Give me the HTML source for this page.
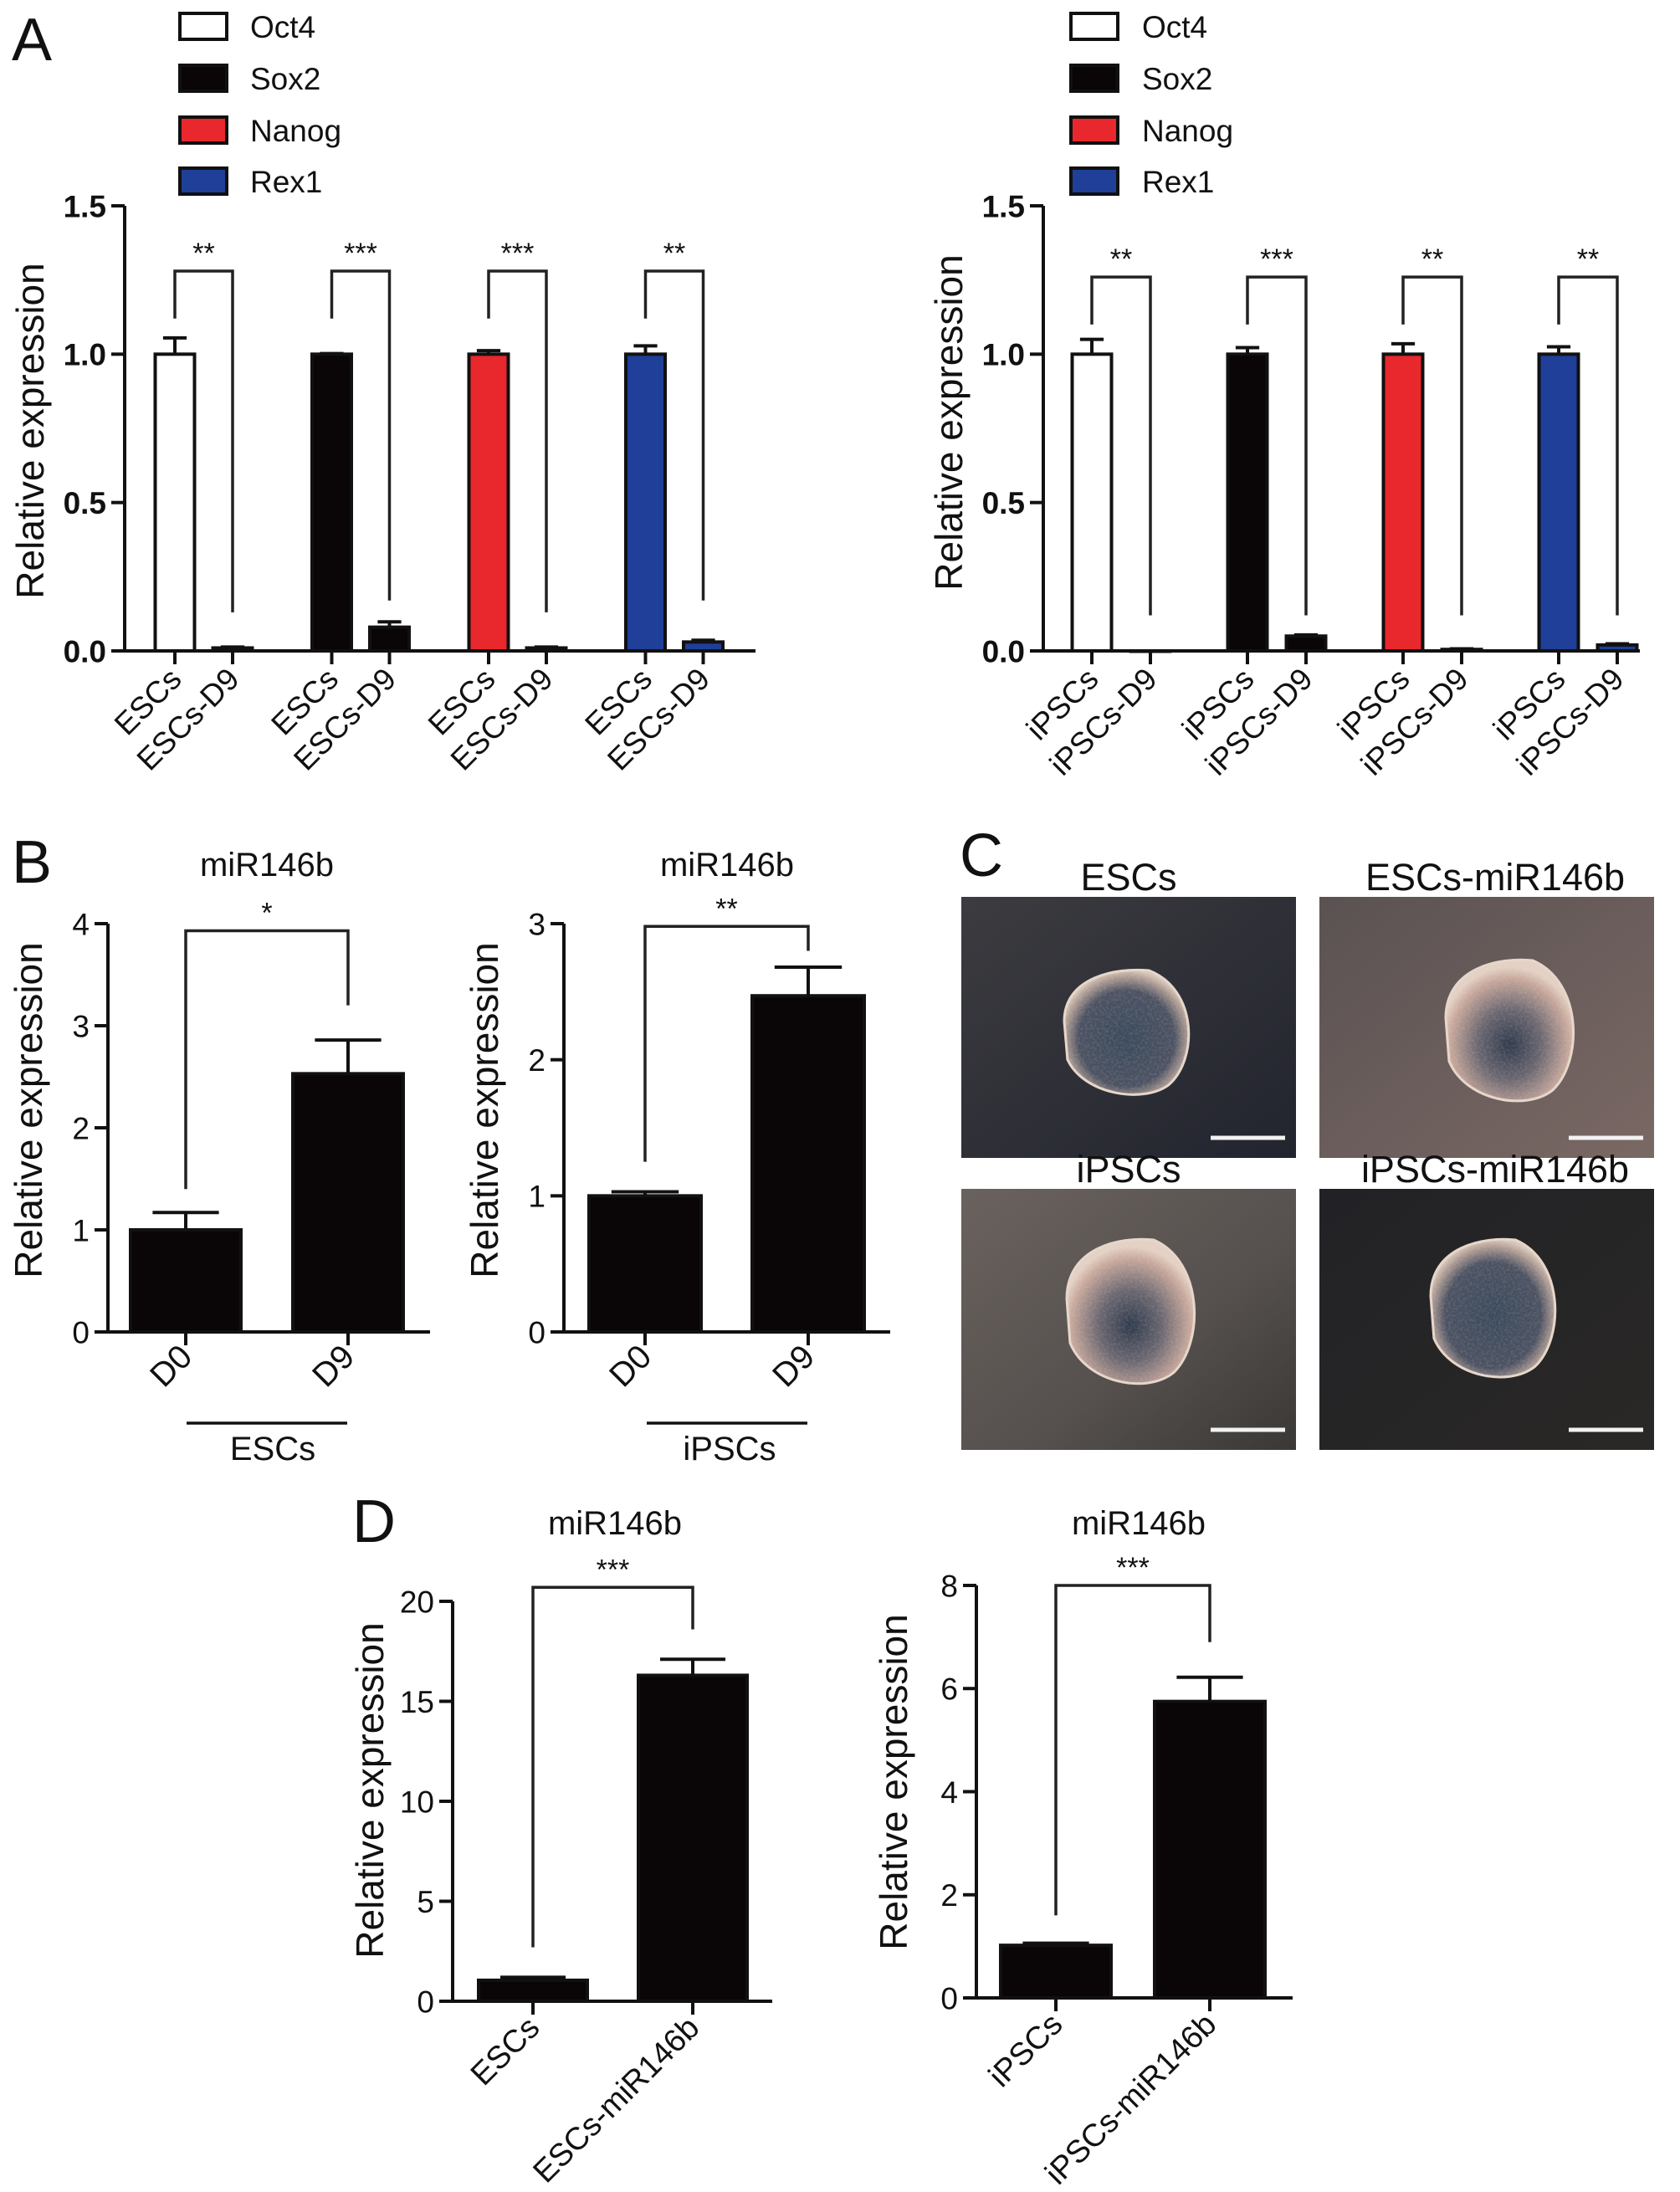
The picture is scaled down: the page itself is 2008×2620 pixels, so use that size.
<!DOCTYPE html>
<html><head><meta charset="utf-8">
<style>
html,body{margin:0;padding:0;background:#fff;}
svg{display:block;font-family:"Liberation Sans",Arial,sans-serif;}
</style></head>
<body>
<svg id="fig" width="2008" height="2620" viewBox="0 0 2008 2620" xmlns="http://www.w3.org/2000/svg">
<defs>
  <filter id="grain" x="0" y="0" width="100%" height="100%">
    <feTurbulence type="fractalNoise" baseFrequency="0.35" numOctaves="2" seed="3"/>
    <feColorMatrix type="matrix" values="0 0 0 0 0.9  0 0 0 0 0.85  0 0 0 0 0.8  0 0 0 0.9 -0.35"/>
    <feComposite in2="SourceGraphic" operator="in"/>
  </filter>
  <radialGradient id="colA" cx="0.5" cy="0.55" r="0.55">
    <stop offset="0" stop-color="#3a4a5c"/><stop offset="0.7" stop-color="#4c5262"/><stop offset="0.92" stop-color="#b8a49a"/><stop offset="1" stop-color="#d8c8bc"/>
  </radialGradient>
  <radialGradient id="colB" cx="0.5" cy="0.6" r="0.55">
    <stop offset="0" stop-color="#2e3a4c"/><stop offset="0.45" stop-color="#6a6670"/><stop offset="0.85" stop-color="#c8a89c"/><stop offset="1" stop-color="#e4d0c4"/>
  </radialGradient>
  <linearGradient id="bgTL" x1="0" y1="0" x2="1" y2="1"><stop offset="0" stop-color="#3c3c40"/><stop offset="1" stop-color="#22242e"/></linearGradient>
  <linearGradient id="bgTR" x1="0" y1="0" x2="1" y2="1"><stop offset="0" stop-color="#5a5252"/><stop offset="1" stop-color="#7a6864"/></linearGradient>
  <linearGradient id="bgBL" x1="0" y1="0" x2="1" y2="1"><stop offset="0" stop-color="#6a625e"/><stop offset="0.6" stop-color="#55504e"/><stop offset="1" stop-color="#3a3836"/></linearGradient>
  <linearGradient id="bgBR" x1="0" y1="0" x2="1" y2="1"><stop offset="0" stop-color="#222226"/><stop offset="1" stop-color="#2a2826"/></linearGradient>
</defs>
<g id="root"></g>
</svg>
<script>
// ---------- DATA ----------
const geneNames = ["Oct4","Sox2","Nanog","Rex1"];
const geneColors = ["#ffffff","#0a0506","#e8282c","#1f3f99"];
const aLeftCats = ["ESCs","ESCs-D9"];
const aLeftMeans = [1.0,0.01, 1.0,0.08, 1.0,0.01, 1.0,0.03];
const aLeftErrs  = [0.055,0.003, 0.002,0.018, 0.012,0.003, 0.028,0.006];
const aLeftStars = ["**","***","***","**"];
const aRightCats = ["iPSCs","iPSCs-D9"];
const aRightMeans = [1.0,0.0, 1.0,0.05, 1.0,0.005, 1.0,0.02];
const aRightErrs  = [0.05,0.0, 0.022,0.004, 0.035,0.002, 0.025,0.004];
const aRightStars = ["**","***","**","**"];
const aTicks = ["0.0","0.5","1.0","1.5"];

const bLeftCats = ["D0","D9"];
const bLeftMeans = [1.0,2.53];
const bLeftErrs = [0.17,0.33];
const bLeftTicks = ["0","1","2","3","4"];
const bRightCats = ["D0","D9"];
const bRightMeans = [1.0,2.47];
const bRightErrs = [0.03,0.21];
const bRightTicks = ["0","1","2","3"];

const dLeftCats = ["ESCs","ESCs-miR146b"];
const dLeftMeans = [1.05,16.3];
const dLeftErrs = [0.15,0.8];
const dLeftTicks = ["0","5","10","15","20"];
const dRightCats = ["iPSCs","iPSCs-miR146b"];
const dRightMeans = [1.02,5.75];
const dRightErrs = [0.04,0.47];
const dRightTicks = ["0","2","4","6","8"];

// ---------- HELPERS ----------
const NS="http://www.w3.org/2000/svg";
const root=document.getElementById('root');
function el(tag,attrs,parent,text){
  const e=document.createElementNS(NS,tag);
  for(const k in attrs) e.setAttribute(k,attrs[k]);
  if(text!==undefined) e.textContent=text;
  (parent||root).appendChild(e);
  return e;
}
function txt(x,y,s,size,opts,parent){
  opts=opts||{};
  const t=el('text',{x:x,y:y,'font-size':size,fill:'#111','text-anchor':opts.anchor||'start'},parent,s);
  if(opts.bold) t.setAttribute('font-weight','bold');
  if(opts.rot!==undefined) t.setAttribute('transform','rotate('+opts.rot+' '+x+' '+y+')');
  return t;
}

function barChart(cfg,cats,means,errs,ticks,colors,name){
  const g=el('g',{});
  
  
  const y=v=>cfg.axisY0-(v/cfg.vmax)*(cfg.axisY0-cfg.axisYTop);
  const nPer=cats.length;
  const xc=i=>cfg.firstX+Math.floor(i/nPer)*cfg.step+(i%nPer)*cfg.offset;
  for(let i=0;i<means.length;i++){
    const cx=xc(i), top=y(means[i]);
    const fill=colors[Math.floor(i/nPer)];
    if(errs[i]>0){
      const ey=y(means[i]+errs[i]);
      const eb=el('path',{d:'M'+cx+' '+top+'V'+ey+'M'+(cx-cfg.barW*0.3)+' '+ey+'H'+(cx+cfg.barW*0.3),stroke:'#111','stroke-width':4,fill:'none'},g);
      
      
    }
    const r=el('rect',{x:cx-cfg.barW/2,y:top,width:cfg.barW,height:Math.max(cfg.axisY0-top,0.5),fill:fill,stroke:'#111','stroke-width':4},g);
    
    
    el('line',{x1:cx,y1:cfg.axisY0,x2:cx,y2:cfg.axisY0+16,stroke:'#111','stroke-width':4},g);
    const lab=txt(cx+10,cfg.axisY0+cfg.labDy,cats[i%nPer],cfg.labFont,{anchor:'end',rot:-45},g);
    
    
  }
  const ax=el('path',{d:'M'+cfg.axisX+' '+(cfg.axisYTop)+'V'+cfg.axisY0+'H'+cfg.xEnd,stroke:'#111','stroke-width':4,fill:'none'},g);
  
  
  for(let k=0;k<ticks.length;k++){
    const v=parseFloat(ticks[k]);
    const ty=y(v);
    el('line',{x1:cfg.axisX-16,y1:ty,x2:cfg.axisX,y2:ty,stroke:'#111','stroke-width':4},g);
    const tl=txt(cfg.axisX-22,ty+cfg.tickFont*0.36,ticks[k],cfg.tickFont,{anchor:'end',bold:cfg.tickBold},g);
    
    
  }
  const yt=txt(cfg.yTitleX,cfg.yTitleY,'Relative expression',cfg.yTitleFont,{anchor:'middle',rot:-90},g);
  
  
  for(let gi=0;gi<cfg.stars.length;gi++){
    const x1=xc(gi*nPer), x2=xc(gi*nPer+1);
    const by=y(cfg.brTop), l1=y(cfg.legL[gi]), l2=y(cfg.legR[gi]);
    const br=el('path',{d:'M'+x1+' '+l1+'V'+by+'H'+x2+'V'+l2,stroke:'#222','stroke-width':3.5,fill:'none'},g);
    
    
    const st=txt((x1+x2)/2,by-cfg.starDy,cfg.stars[gi],cfg.starFont,{anchor:'middle'},g);
    
    
  }
  return g;
}

// ---------- PANEL LETTERS ----------
[['A',14,72],['B',14,1055],['C',1147,1047],['D',421,1843]].forEach(p=>{
  const t=txt(p[1],p[2],p[0],72,{});
  
  
});

// ---------- PANEL A LEGENDS ----------
function legend(x0,tx,name){
  const g=el('g',{});
  
  
  const ys=[16,78,140,201];
  for(let i=0;i<geneNames.length;i++){
    const r=el('rect',{x:x0,y:ys[i],width:56,height:31,fill:geneColors[i],stroke:'#111','stroke-width':4},g);
    
    
    const t=txt(tx,ys[i]+29,geneNames[i],37,{},g);
    
    
  }
}
legend(215,299,'legend-left');
legend(1280,1365,'legend-right');

// ---------- PANEL A CHARTS ----------
barChart({axisX:149,axisY0:778,axisYTop:246,xEnd:903,vmax:1.5,firstX:209,step:187.5,offset:69,barW:47,
  tickFont:37,tickBold:true,labFont:37,labDy:36,yTitleX:52,yTitleY:515,yTitleFont:46,
  stars:aLeftStars,brTop:1.28,legL:[1.12,1.12,1.12,1.12],legR:[0.13,0.17,0.13,0.17],starDy:10,starFont:34},
  aLeftCats,aLeftMeans,aLeftErrs,aTicks,geneColors,'chart-a-escs');
barChart({axisX:1247,axisY0:778,axisYTop:246,xEnd:1960,vmax:1.5,firstX:1305,step:186,offset:70,barW:47,
  tickFont:37,tickBold:true,labFont:37,labDy:36,yTitleX:1150,yTitleY:505,yTitleFont:46,
  stars:aRightStars,brTop:1.26,legL:[1.1,1.1,1.1,1.1],legR:[0.12,0.12,0.12,0.12],starDy:10,starFont:34},
  aRightCats,aRightMeans,aRightErrs,aTicks,geneColors,'chart-a-ipscs');

// ---------- PANEL B ----------
const blk=["#0a0506"];
function title(x,y,s,name){const t=txt(x,y,s,40,{anchor:'middle'});}
title(319,1047,'miR146b','chart-title-b-left');
title(869,1047,'miR146b','chart-title-b-right');
barChart({axisX:129,axisY0:1592,axisYTop:1104,xEnd:514,vmax:4,firstX:222,step:0,offset:194,barW:132,
  tickFont:37,tickBold:false,labFont:40,labDy:32,yTitleX:50,yTitleY:1327,yTitleFont:46,
  stars:["*"],brTop:3.93,legL:[1.4],legR:[3.2],starDy:10,starFont:34},
  bLeftCats,bLeftMeans,bLeftErrs,bLeftTicks,blk,'chart-b-escs');
barChart({axisX:674,axisY0:1592,axisYTop:1104,xEnd:1064,vmax:3,firstX:771,step:0,offset:195,barW:134,
  tickFont:37,tickBold:false,labFont:40,labDy:32,yTitleX:595,yTitleY:1327,yTitleFont:46,
  stars:["**"],brTop:2.98,legL:[1.25],legR:[2.8],starDy:10,starFont:34},
  bRightCats,bRightMeans,bRightErrs,bRightTicks,blk,'chart-b-ipscs');
[[223,415,326,'ESCs'],[773,965,872,'iPSCs']].forEach(gl=>{
  const l=el('line',{x1:gl[0],y1:1701,x2:gl[1],y2:1701,stroke:'#111','stroke-width':3.5});
  
  
  const t=txt(gl[2],1745,gl[3],40,{anchor:'middle'});
  
  
});

// ---------- PANEL C (micrographs) ----------
const imgs=[
  {x:1149,y:1072,bg:'url(#bgTL)',lab:'ESCs',grad:'url(#colA)',cx:1350,cy:1236,rx:78,ry:76},
  {x:1577,y:1072,bg:'url(#bgTR)',lab:'ESCs-miR146b',grad:'url(#colB)',cx:1808,cy:1234,rx:80,ry:86},
  {x:1149,y:1421,bg:'url(#bgBL)',lab:'iPSCs',grad:'url(#colB)',cx:1355,cy:1570,rx:80,ry:88},
  {x:1577,y:1421,bg:'url(#bgBR)',lab:'iPSCs-miR146b',grad:'url(#colA)',cx:1788,cy:1566,rx:78,ry:84}
];
imgs.forEach(m=>{
  const g=el('g',{});
  
  
  el('rect',{x:m.x,y:m.y,width:400,height:312,fill:m.bg},g);
  const d='M'+(m.cx-m.rx)+' '+(m.cy-m.ry*0.2)+
    ' C'+(m.cx-m.rx)+' '+(m.cy-m.ry*0.9)+' '+(m.cx-m.rx*0.2)+' '+(m.cy-m.ry*1.05)+' '+(m.cx+m.rx*0.3)+' '+(m.cy-m.ry)+
    ' C'+(m.cx+m.rx*1.05)+' '+(m.cy-m.ry*0.7)+' '+(m.cx+m.rx*1.05)+' '+(m.cy+m.ry*0.4)+' '+(m.cx+m.rx*0.6)+' '+(m.cy+m.ry*0.8)+
    ' C'+(m.cx+m.rx*0.2)+' '+(m.cy+m.ry*1.1)+' '+(m.cx-m.rx*0.7)+' '+(m.cy+m.ry*0.95)+' '+(m.cx-m.rx*0.95)+' '+(m.cy+m.ry*0.4)+' Z';
  el('path',{d:d,fill:m.grad,stroke:'#e6d6ca','stroke-width':3},g);
  el('path',{d:d,fill:'#fff',filter:'url(#grain)',opacity:0.35},g);
  const sb=el('line',{x1:m.x+298,y1:m.y+288,x2:m.x+387,y2:m.y+288,stroke:'#f2f2f2','stroke-width':5},g);
  
  
  const t=txt(m.x+200+(m.lab.length>6?10:0),m.y-8,m.lab,45,{anchor:'middle'});
  
  
});

// ---------- PANEL D ----------
title(735,1834,'miR146b','chart-title-d-left');
title(1361,1834,'miR146b','chart-title-d-right');
barChart({axisX:541,axisY0:2392,axisYTop:1914,xEnd:923,vmax:20,firstX:637,step:0,offset:191,barW:130,
  tickFont:37,tickBold:false,labFont:38,labDy:34,yTitleX:458,yTitleY:2140,yTitleFont:46,
  stars:["***"],brTop:20.7,legL:[2.7],legR:[18.6],starDy:10,starFont:34},
  dLeftCats,dLeftMeans,dLeftErrs,dLeftTicks,blk,'chart-d-escs');
barChart({axisX:1167,axisY0:2388,axisYTop:1895,xEnd:1545,vmax:8,firstX:1262,step:0,offset:184,barW:132,
  tickFont:37,tickBold:false,labFont:38,labDy:34,yTitleX:1084,yTitleY:2130,yTitleFont:46,
  stars:["***"],brTop:8.0,legL:[1.6],legR:[6.9],starDy:10,starFont:34},
  dRightCats,dRightMeans,dRightErrs,dRightTicks,blk,'chart-d-ipscs');
</script>
</body></html>
